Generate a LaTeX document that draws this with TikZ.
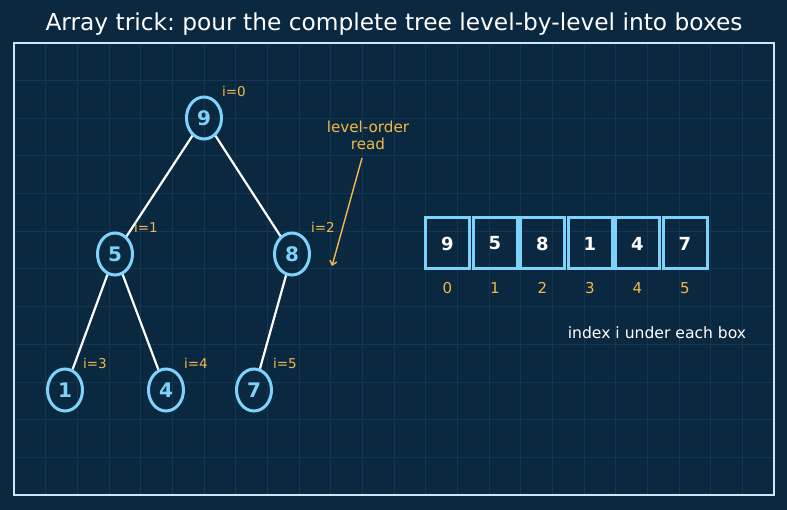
\documentclass[tikz,border=0pt]{standalone}
\usepackage{fontspec}
\setmainfont{DejaVu Sans}
\usetikzlibrary{shapes.geometric,arrows.meta}
\frenchspacing
\definecolor{bgc}{HTML}{0B2841}
\definecolor{gridc}{HTML}{16364F}
\definecolor{framec}{HTML}{CFE6F7}
\definecolor{skyc}{HTML}{7DD3FC}
\definecolor{orangec}{HTML}{F2B84B}
\tikzset{
  treenode/.style={ellipse, draw=skyc, line width=3pt, minimum width=35pt, minimum height=42pt, inner sep=0pt, text=skyc, font=\fontsize{20}{24}\selectfont\bfseries},
  edge/.style={white, line width=2.2pt},
  idxlab/.style={text=orangec, font=\fontsize{13.5}{16}\selectfont},
  cell/.style={rectangle, draw=skyc, line width=3pt, minimum width=44pt, minimum height=51pt, inner sep=0pt, text=white, font=\fontsize{18}{21}\selectfont\bfseries},
  cellidx/.style={text=orangec, font=\fontsize{15}{18}\selectfont},
}
\begin{document}
\begin{tikzpicture}[x=1pt,y=-1pt]
\fill[bgc] (0,0) rectangle (787,510);
\useasboundingbox (0,0) rectangle (787,510);
% grid
\foreach \i in {1,...,23} \draw[gridc, line width=1pt] ({14+\i*31.6667},43) -- ++(0,452);
\foreach \j in {1,...,11} \draw[gridc, line width=1pt] (14,{43+\j*37.6667}) -- ++(760,0);
% frame
\draw[framec, line width=1.6pt] (14,43) rectangle (774,495);
% title
\node[text=white, font=\fontsize{23.3}{28}\selectfont] (title) at (394,24) {Array trick: pour the complete tree level-by-level into boxes};
% tree
\node[treenode] (n9) at (204,118) {9};
\node[treenode] (n5) at (115,254) {5};
\node[treenode] (n8) at (292,254) {8};
\node[treenode] (n1) at (65,390) {1};
\node[treenode] (n4) at (166,390) {4};
\node[treenode] (n7) at (254,390) {7};
\draw[edge] (n9) -- (n5);
\draw[edge] (n9) -- (n8);
\draw[edge] (n5) -- (n1);
\draw[edge] (n5) -- (n4);
\draw[edge] (n8) -- (n7);
\node[idxlab] (l0) at (234,91) {i=0};
\node[idxlab] (l1) at (146,227) {i=1};
\node[idxlab] (l2) at (323,227) {i=2};
\node[idxlab] (l3) at (95,363) {i=3};
\node[idxlab] (l4) at (196,363) {i=4};
\node[idxlab] (l5) at (285,363) {i=5};
% annotation
\node[text=orangec, align=center, font=\fontsize{15.2}{17}\selectfont] (ann) at (368,135) {level-order\\read};
\coordinate (arrstart) at (362,158);
\coordinate (arrend) at (332,266);
\draw[orangec, line width=1.4pt, -{Straight Barb[length=4pt,width=7pt]}] (arrstart) -- (arrend);
% array
\foreach \v/\k [count=\c from 0] in {9/0,5/1,8/2,1/3,4/4,7/5} {
  \node[cell] (a\c) at ({447.5+\c*47.5},243.5) {\v};
  \node[cellidx] (i\c) at ({447.5+\c*47.5},288) {\k};
}
\node[text=white, font=\fontsize{15.6}{18}\selectfont] (note) at (657,333) {index i under each box};
\end{tikzpicture}
\end{document}
